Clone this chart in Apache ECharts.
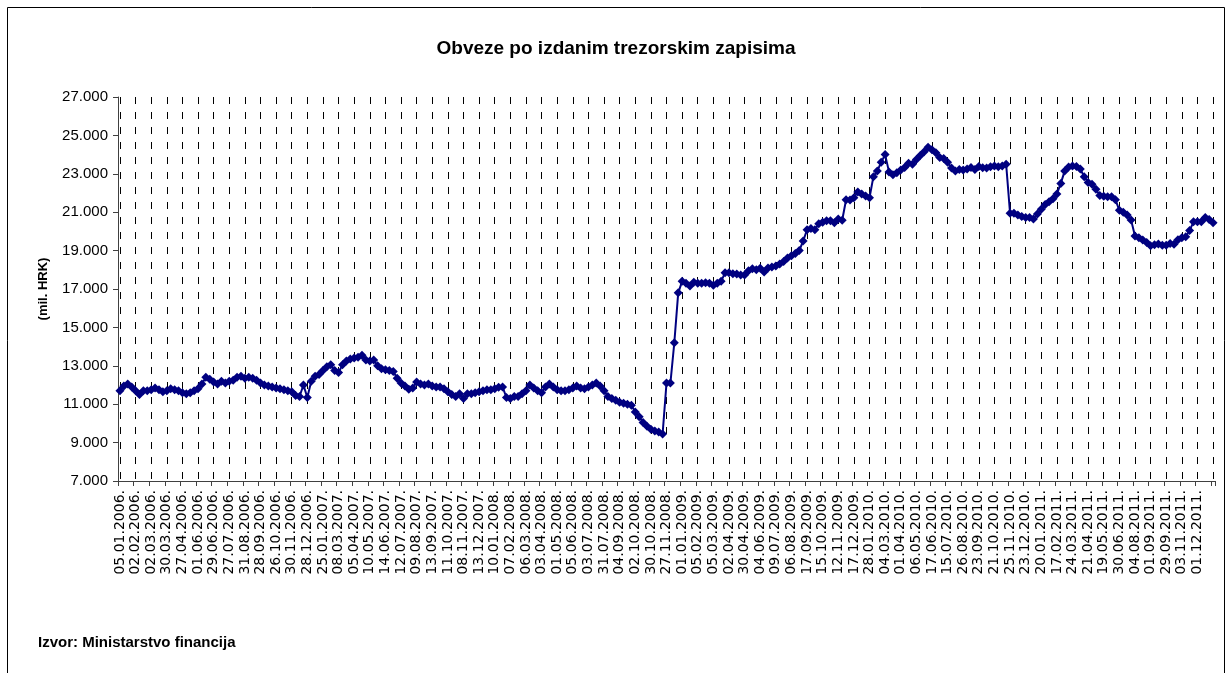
<!doctype html>
<html>
	<head>
		<meta charset="UTF-8">
		<title>Obveze po izdanim trezorskim zapisima</title>
		<script src="https://cdn.jsdelivr.net/npm/echarts@6/dist/echarts.min.js"></script>
		<style>
			html, body { margin: 0; padding: 0; background: #fff; }
			#chart { width: 1232px; height: 673px; }
		</style>
	</head>
	<body>
		<div id="chart"></div>
		<script type="text/javascript">
			// x axis labels shown in the source (every 4th week)
			var tickLabels = [
				'05.01.2006.', '02.02.2006.', '02.03.2006.', '30.03.2006.', '27.04.2006.', '01.06.2006.', '29.06.2006.',
				'27.07.2006.', '31.08.2006.', '28.09.2006.', '26.10.2006.', '30.11.2006.', '28.12.2006.', '25.01.2007.',
				'08.03.2007.', '05.04.2007.', '10.05.2007.', '14.06.2007.', '12.07.2007.', '09.08.2007.', '13.09.2007.',
				'11.10.2007.', '08.11.2007.', '13.12.2007.', '10.01.2008.', '07.02.2008.', '06.03.2008.', '03.04.2008.',
				'01.05.2008.', '05.06.2008.', '03.07.2008.', '31.07.2008.', '04.09.2008.', '02.10.2008.', '30.10.2008.',
				'27.11.2008.', '01.01.2009.', '05.02.2009.', '05.03.2009.', '02.04.2009.', '30.04.2009.', '04.06.2009.',
				'09.07.2009.', '06.08.2009.', '17.09.2009.', '15.10.2009.', '12.11.2009.', '17.12.2009.', '28.01.2010.',
				'04.03.2010.', '01.04.2010.', '06.05.2010.', '17.06.2010.', '15.07.2010.', '26.08.2010.', '23.09.2010.',
				'21.10.2010.', '25.11.2010.', '23.12.2010.', '20.01.2011.', '17.02.2011.', '24.03.2011.', '21.04.2011.',
				'19.05.2011.', '30.06.2011.', '04.08.2011.', '01.09.2011.', '29.09.2011.', '03.11.2011.', '01.12.2011.'
			];

			// weekly values, mil. HRK
			var vals2006 = [
				11700, 11950, 12050, 11900, 11700, 11500, 11700, 11700, 11750, 11850,
				11750, 11650, 11700, 11800, 11750, 11700, 11600, 11550, 11600, 11700,
				11800, 12050, 12400, 12300, 12150, 12050, 12200, 12100, 12200, 12250,
				12400, 12450, 12350, 12400, 12350, 12250, 12100, 12000, 11950, 11900,
				11850, 11800, 11750, 11700, 11650, 11450, 11400, 12000, 11350
			];
			var vals2007 = [
				12200, 12450, 12550, 12750, 12950, 13050, 12750, 12650, 13050, 13250,
				13350, 13400, 13450, 13550, 13300, 13250, 13300, 13000, 12850, 12800,
				12750, 12700, 12350, 12100, 11950, 11780, 11850, 12150, 12050, 12000,
				12050, 11950, 11900, 11900, 11800, 11650, 11500, 11400, 11550, 11300,
				11550, 11550, 11600, 11650, 11700, 11750, 11750, 11800, 11880, 11900
			];
			var vals2008 = [
				11350, 11300, 11400, 11400, 11550, 11700, 12000, 11850, 11700, 11600,
				11900, 12050, 11900, 11750, 11700, 11700, 11750, 11850, 11950, 11850,
				11800, 11900, 12000, 12100, 11950, 11700, 11400, 11300, 11200, 11100,
				11050, 11000, 10950, 10600, 10350, 10050, 9850, 9700, 9600, 9550,
				9450, 12100, 12100, 14200, 16800
			];
			var vals2009 = [
				17400, 17300, 17150, 17350, 17300, 17300, 17330, 17300, 17200, 17300,
				17400, 17850, 17850, 17800, 17780, 17730, 17730, 17950, 18050, 18000,
				18080, 17880, 18100, 18150, 18200, 18300, 18430, 18620, 18730, 18850,
				19000, 19500, 20080, 20150, 20080, 20400, 20480, 20550, 20560, 20450,
				20650, 20580, 21650, 21640, 21750, 22050, 21950
			];
			var vals2010 = [
				21850, 21750, 22850, 23150, 23600, 24000, 23100, 22950, 23050, 23200,
				23330, 23550, 23500, 23750, 23950, 24150, 24380, 24250, 24100, 23850,
				23800, 23600, 23300, 23150, 23230, 23200, 23250, 23330, 23230, 23380,
				23320, 23300, 23370, 23400, 23370, 23400, 23500, 20950, 20950, 20850,
				20780, 20730, 20730
			];
			var vals2011 = [
				20650, 20900, 21150, 21400, 21550, 21700, 21950, 22500, 23150, 23350,
				23400, 23380, 23250, 22850, 22550, 22450, 22200, 21870, 21830, 21810,
				21810, 21650, 21100, 21000, 20850, 20600, 19760, 19670, 19550, 19420,
				19250, 19300, 19350, 19280, 19280, 19370, 19330, 19560, 19670, 19720,
				20050, 20500, 20500, 20500, 20730, 20620, 20450
			];

			var values = [].concat(vals2006, vals2007, vals2008, vals2009, vals2010, vals2011);

			function pad(n){
				return (n < 10 ? '0' : '') + n;
			}
			function addDays(lbl, d){
				var p = lbl.split('.');
				var dt = new Date(Date.UTC(+p[2], +p[1] - 1, +p[0] + d));
				return pad(dt.getUTCDate()) + '.' + pad(dt.getUTCMonth() + 1) + '.' + dt.getUTCFullYear() + '.';
			}

			// weeks between the shown labels
			var categories = [];
			for (var k = 0; k < values.length; k++) {
				var i = Math.min(Math.floor(k / 4), tickLabels.length - 1);
				var off = k - 4 * i;
				categories.push(off === 0 ? tickLabels[i] : addDays(tickLabels[i], 7 * off));
			}

			function thousands(v){
				return String(v).replace(/\B(?=(\d{3})+(?!\d))/g, '.');
			}

			var chart = echarts.init(document.getElementById('chart'));
			chart.setOption({
				backgroundColor: '#fff',
				animation: false,
				title: {
					text: 'Obveze po izdanim trezorskim zapisima',
					left: 'center',
					top: 34,
					textStyle: {
						fontFamily: 'Liberation Sans',
						fontWeight: 'bold',
						fontSize: 19,
						color: '#000'
					}
				},
				graphic: [
					{
						type: 'rect',
						shape: { x: 7.5, y: 7.5, width: 1217, height: 700 },
						style: { fill: null, stroke: '#000', lineWidth: 1 },
						silent: true
					},
					{
						type: 'text',
						left: 38,
						top: 635,
						style: {
							text: 'Izvor: Ministarstvo financija',
							font: 'bold 15px "Liberation Sans"',
							fill: '#000'
						}
					}
				],
				grid: {
					left: 118,
					right: 17,
					top: 97,
					bottom: 192
				},
				xAxis: {
					type: 'category',
					data: categories,
					boundaryGap: true,
					axisLine: { lineStyle: { color: '#404040', width: 1 } },
					axisTick: { show: true, interval: 3, length: 5, lineStyle: { color: '#404040' } },
					axisLabel: {
						interval: function(index, value){
							return tickLabels.indexOf(value) >= 0;
						},
						rotate: 90,
						margin: 9,
						fontFamily: 'DejaVu Sans',
						fontSize: 14,
						color: '#000'
					},
					splitLine: {
						show: true,
						interval: 3,
						alignWithLabel: true,
						lineStyle: { color: '#000', width: 1, type: [7, 8] }
					}
				},
				yAxis: {
					type: 'value',
					min: 7000,
					max: 27000,
					interval: 2000,
					name: '(mil. HRK)',
					nameLocation: 'middle',
					nameGap: 68,
					nameTextStyle: {
						fontFamily: 'Liberation Sans',
						fontWeight: 'bold',
						fontSize: 13,
						color: '#000'
					},
					axisLine: { show: true, lineStyle: { color: '#404040', width: 1 } },
					axisTick: { show: true, length: 5, lineStyle: { color: '#404040' } },
					axisLabel: {
						margin: 10,
						fontFamily: 'Liberation Sans',
						fontSize: 15,
						color: '#000',
						formatter: thousands
					},
					splitLine: { show: false }
				},
				series: [
					{
						type: 'line',
						name: 'Obveze',
						data: values,
						symbol: 'diamond',
						symbolSize: 9,
						showAllSymbol: true,
						lineStyle: { color: '#000080', width: 2 },
						itemStyle: { color: '#000080' }
					}
				]
			});
		</script>
	</body>
</html>
